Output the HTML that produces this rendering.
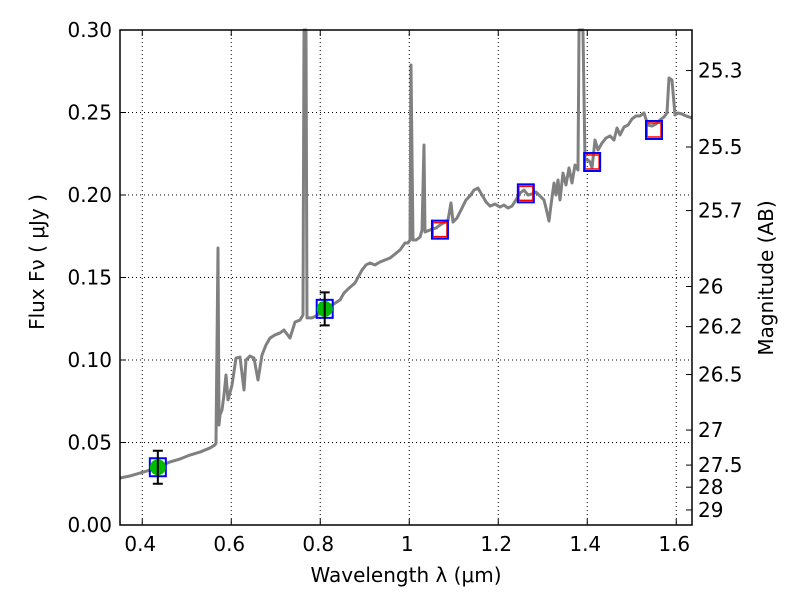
<!DOCTYPE html>
<html><head><meta charset="utf-8"><style>
body{margin:0;background:#fff}
svg text{font-family:"DejaVu Sans","Liberation Sans",sans-serif;font-size:20px;fill:#000}
</style></head><body>
<svg id="c" width="800" height="600" viewBox="0 0 800 600">
<rect x="0" y="0" width="800" height="600" fill="#fff"/>
<g id="grid"></g><g id="spec"></g><g id="pts"></g><g id="ax"></g>
</svg>
<script>
const specPx=[[120,478],[130,476],[140,473],[150,470],[160,466],[170,462],[180,459],[190,455],[200,452],[210,448],[215,445],[216,443],[218,248],[219,425],[220,415],[222,410],[224,395],[226,375],[228,400],[232,385],[236,358],[240,357],[244,390],[246,360],[250,356],[254,358],[258,380],[262,355],[266,345],[270,338],[275,335],[280,333],[284,330],[290,338],[295,322],[300,320],[303,315],[304,30],[306,30],[307,318],[312,318],[318,315],[325,308],[332,305],[340,300],[344,293],[348,289],[355,283],[362,270],[366,265],[370,263],[375,265],[380,262],[385,260],[390,258],[395,254],[400,250],[405,243],[408,243],[410,240],[411,65],[413,240],[416,240],[420,237],[422,230],[424,145],[425,232],[430,230],[436,228],[440,225],[445,222],[448,220],[451,203],[453,222],[457,218],[462,208],[466,200],[470,196],[474,190],[478,188],[482,195],[486,202],[490,206],[495,204],[500,207],[504,205],[508,208],[512,206],[516,200],[520,193],[524,190],[528,195],[532,194],[536,192],[540,196],[544,200],[546,208],[549,221],[551,205],[554,183],[556,195],[558,180],[560,200],[563,173],[566,185],[569,168],[572,183],[575,165],[578,170],[579,30],[583,30],[585,160],[588,160],[590,162],[592,168],[595,140],[598,150],[602,143],[606,138],[610,136],[614,140],[617,128],[620,135],[624,127],[628,125],[632,119],[636,116],[640,116],[644,113],[648,125],[652,126],[656,124],[660,120],[664,117],[667,113],[669,78],[672,80],[675,115],[678,113],[682,114],[686,116],[692,118]];
// data arrays (wavelength µm, flux µJy)
const specWave=specPx.map(p=>+((p[0]-120)/445+0.35).toFixed(4));
const specFlux=specPx.map(p=>+((525-p[1])/1650).toFixed(4));
const photWave=[0.435,0.81];
const photFlux=[0.035,0.131];
const photErr=[0.010,0.010];
const modelWave=[0.435,0.81,1.069,1.262,1.411,1.55];
const modelFlux=[0.035,0.131,0.179,0.201,0.220,0.2394];
const xTicks=[0.4,0.6,0.8,1.0,1.2,1.4,1.6];
const xTickLabels=["0.4","0.6","0.8","1","1.2","1.4","1.6"];
const yTicks=[0,0.05,0.10,0.15,0.20,0.25,0.30];
const yTickLabels=["0.00","0.05","0.10","0.15","0.20","0.25","0.30"];
const magTicks=[25.3,25.5,25.7,26,26.2,26.5,27,27.5,28,29];

const L=120,R=692,T=30,B=525,x0=0.35,x1=0.35+572/445,y0=0,y1=0.30;
const X=v=>L+(v-x0)/(x1-x0)*(R-L);
const Y=v=>B-(v-y0)/(y1-y0)*(B-T);
const NS="http://www.w3.org/2000/svg";
function mk(t,p,a){const e=document.createElementNS(NS,t);for(const k in a)e.setAttribute(k,a[k]);p.appendChild(e);return e;}
const grid=document.getElementById('grid'),spec=document.getElementById('spec'),pts=document.getElementById('pts'),ax=document.getElementById('ax');
xTicks.forEach((v,i)=>{
 const g=mk('line',grid,{x1:X(v),x2:X(v),y1:T,y2:B,stroke:'#000','stroke-dasharray':'1,3','stroke-width':1});
 
 
 const tk=mk('line',ax,{x1:X(v),x2:X(v),y1:B,y2:B-6,stroke:'#000'});
 
 
 mk('line',ax,{x1:X(v),x2:X(v),y1:T,y2:T+6,stroke:'#000'});
 const t=mk('text',ax,{x:X(v)-2,y:B+26,'text-anchor':'middle'});t.textContent=xTickLabels[i];
 
 
});
yTicks.forEach((v,i)=>{
 if(v>0&&v<0.3){const g=mk('line',grid,{x1:L,x2:R,y1:Y(v),y2:Y(v),stroke:'#000','stroke-dasharray':'1,3'});
 
 }
 mk('line',ax,{x1:L,x2:L+6,y1:Y(v),y2:Y(v),stroke:'#000'});
 const t=mk('text',ax,{x:L-8,y:Y(v)+7,'text-anchor':'end'});t.textContent=yTickLabels[i];
 
 
});
magTicks.forEach(m=>{
 const f=Math.pow(10,(23.9-m)/2.5);const y=Y(f);
 const tk=mk('line',ax,{x1:R,x2:R-6,y1:y,y2:y,stroke:'#000'});
 
 
 const t=mk('text',ax,{x:R+6,y:y+7});t.textContent=String(m);
 
 
});
const line=mk('polyline',spec,{points:specWave.map((w,i)=>X(w)+','+Y(Math.min(specFlux[i],0.3))).join(' '),fill:'none',stroke:'#808080','stroke-width':3,'stroke-linejoin':'round'});


modelWave.forEach((w,i)=>{
 const cx=X(w),cy=Y(modelFlux[i]);
 if(i>=2){const r=mk('rect',pts,{x:cx-7,y:cy-7,width:14,height:14,fill:'none',stroke:'red','stroke-width':1.5});
 
 }
 const b=mk('rect',pts,{x:cx-8,y:cy-9,width:16,height:18,fill:'none',stroke:'blue','stroke-width':2});
 
 
});
photWave.forEach((w,i)=>{
 const cx=X(w),cy=Y(photFlux[i]),yt=Y(photFlux[i]+photErr[i]),yb=Y(photFlux[i]-photErr[i]);
 const c=mk('circle',pts,{cx:cx,cy:cy,r:8,fill:'#00bb00'});
 
 
 const e=mk('path',pts,{d:`M${cx},${yt}V${yb}M${cx-5},${yt}H${cx+5}M${cx-5},${yb}H${cx+5}`,stroke:'#000','stroke-width':2,fill:'none'});
 
 
});
const fr=mk('rect',ax,{x:L,y:T,width:R-L,height:B-T,fill:'none',stroke:'#000','stroke-width':1.5});


const xl=mk('text',ax,{x:406,y:582,'text-anchor':'middle'});xl.textContent='Wavelength  λ (μm)';


const yl=mk('text',ax,{x:0,y:0,'text-anchor':'middle',transform:'translate(44,262) rotate(-90)'});yl.textContent='Flux  Fν  ( μJy )';


const ml=mk('text',ax,{x:0,y:0,'text-anchor':'middle',transform:'translate(773,278) rotate(-90)'});ml.textContent='Magnitude (AB)';


</script>
</body></html>
